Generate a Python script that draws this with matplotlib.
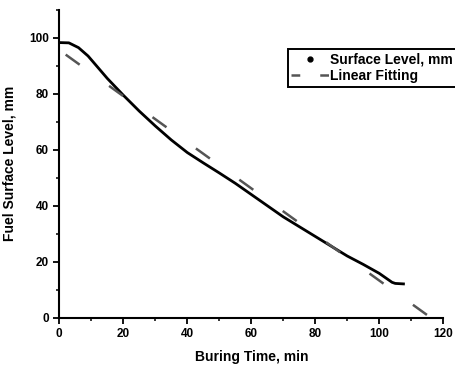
import matplotlib
matplotlib.use('Agg')
import matplotlib.pyplot as plt
from matplotlib.lines import Line2D
from matplotlib.ticker import MultipleLocator

time_min = [0, 3, 6, 9, 12, 15, 20, 25, 30, 35, 40, 45, 50, 55, 60,
            65, 70, 75, 80, 85, 90, 95, 100, 102, 104, 105, 108]
level_mm = [98.3, 98.2, 96.5, 93.5, 89.5, 85.5, 79.5, 73.8, 68.5, 63.5, 59.0,
            55.3, 51.7, 48.0, 44.0, 40.0, 36.0, 32.5, 29.0, 25.5, 22.0,
            19.0, 15.8, 14.2, 12.6, 12.2, 12.0]

# linear fit end points
fit_x = [2, 118]
fit_y = [94.0, -1.6]

plt.rcParams['font.family'] = ['Liberation Sans', 'DejaVu Sans']

dpi = 100
fig = plt.figure(figsize=(456 / dpi, 365 / dpi), dpi=dpi)
ax = fig.add_axes([0.13, 0.13, 0.842, 0.843])

ax.plot(time_min, level_mm, color='black', lw=2.0, solid_capstyle='butt')
ax.plot(fit_x, fit_y, color='#555555', lw=1.8, dashes=(6.9, 14.5))

ax.set_xlim(0, 120)
ax.set_ylim(0, 110)
ax.xaxis.set_major_locator(MultipleLocator(20))
ax.xaxis.set_minor_locator(MultipleLocator(10))
ax.yaxis.set_major_locator(MultipleLocator(20))
ax.yaxis.set_minor_locator(MultipleLocator(10))

for s in ['top', 'right']:
    ax.spines[s].set_visible(False)
for s in ['left', 'bottom']:
    ax.spines[s].set_linewidth(1.5)

ax.tick_params(which='major', length=4, width=1.3, labelsize=8.5, direction='out')
ax.tick_params(which='minor', length=2.5, width=1.1, direction='out')
for lab in ax.get_xticklabels() + ax.get_yticklabels():
    lab.set_fontweight('bold')

ax.set_xlabel('Buring Time, min', fontsize=10, fontweight='bold', labelpad=7)
ax.set_ylabel('Fuel Surface Level, mm', fontsize=10, fontweight='bold', labelpad=9)

handles = [Line2D([], [], color='black', marker='o', ms=3.5, ls='none'),
           Line2D([], [], color='#555555', lw=1.8, dashes=(3.5, 8))]
leg = ax.legend(handles, ['Surface Level, mm', 'Linear Fitting'],
                loc='upper left', bbox_to_anchor=(288 / 456, 1 - 49 / 365),
                bbox_transform=fig.transFigure, fancybox=False, framealpha=1,
                edgecolor='black', prop={'weight': 'bold', 'size': 10},
                borderpad=0.25, labelspacing=0.2, handlelength=2.7,
                handletextpad=0.1, borderaxespad=0)
leg.get_frame().set_linewidth(1.4)

fig.savefig('out.png', dpi=dpi)
